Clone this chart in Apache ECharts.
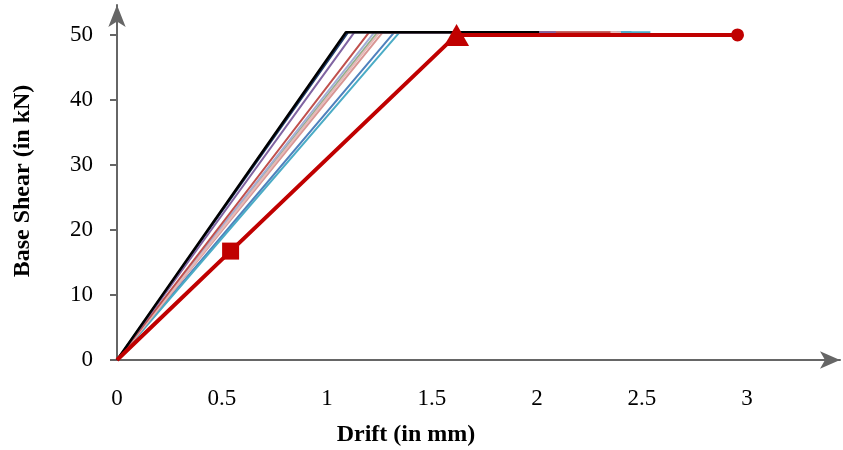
<!DOCTYPE html>
<html>
<head>
<meta charset="utf-8">
<script src="https://cdn.jsdelivr.net/npm/echarts@6/dist/echarts.min.js"></script>
<style>html,body{margin:0;padding:0;background:#fff}#c{width:843px;height:450px}</style>
</head>
<body>
<div id="c"></div>
<script>
// Tick labels
const xTicks = [0, 0.5, 1, 1.5, 2, 2.5, 3];
const yTicks = [0, 10, 20, 30, 40, 50];

// Thin curves: [yield drift, plateau end drift], plateau shear
const curveNames = ['blue', 'cyan', 'green', 'lavender', 'salmon', 'pink', 'red', 'navy', 'purple', 'black'];
const curveYieldDrift = [1.32, 1.345, 1.24, 1.225, 1.265, 1.25, 1.20, 1.10, 1.13, 1.09];
const curveEndDrift = [2.45, 2.54, 2.20, 2.30, 2.38, 2.40, 2.35, 1.95, 2.09, 2.01];
const curveShear = [50.4, 50.4, 50.4, 50.4, 50.4, 50.4, 50.4, 50.4, 50.4, 50.4];
const curveColors = ['#4F81BD', '#4BACC6', '#8FB08A', '#A3AED6', '#D99694', '#E6B9B8', '#C0504D', '#1F3A68', '#8064A2', '#000000'];
const curveWidths = [2, 2, 2, 2, 2, 2, 2, 2, 2, 2.5];

// Highlighted curve (thick red) with markers
const mainDrift = [0, 0.541, 1.617, 2.955];
const mainShear = [0, 16.75, 50.0, 50.0];
const mainSymbols = ['none', 'rect', 'triangle', 'circle'];
const mainSymbolSizes = [0, 17, [25, 22], 13];

const series = [];
curveNames.forEach((n, i) => {
  series.push({
    name: n, type: 'line', showSymbol: false, silent: true,
    data: [[0, 0], [curveYieldDrift[i], curveShear[i]], [curveEndDrift[i], curveShear[i]]],
    lineStyle: { color: curveColors[i], width: curveWidths[i] },
    itemStyle: { color: curveColors[i] }
  });
});
series.push({
  name: 'main', type: 'line', showSymbol: true, silent: true,
  data: mainDrift.map((x, i) => ({ value: [x, mainShear[i]], symbol: mainSymbols[i], symbolSize: mainSymbolSizes[i] })),
  lineStyle: { color: '#C00000', width: 4 },
  itemStyle: { color: '#C00000' },
  z: 5
});

const axisColor = '#666666';
const font = "'Liberation Serif', 'Times New Roman', serif";
const chart = echarts.init(document.getElementById('c'), null, { renderer: 'canvas' });
chart.setOption({
  animation: false,
  backgroundColor: '#ffffff',
  grid: { left: 117, right: 3, top: 5, bottom: 90, containLabel: false },
  xAxis: {
    type: 'value', min: 0, max: 3.443, interval: 0.5,
    splitLine: { show: false },
    axisLine: { lineStyle: { color: axisColor, width: 2 }, symbol: ['none', 'arrow'], symbolSize: [13, 20] },
    axisTick: { show: false },
    axisLabel: { customValues: xTicks, margin: 27, color: '#000', fontFamily: font, fontSize: 23, formatter: v => String(v) }
  },
  yAxis: {
    type: 'value', min: 0, max: 54.6, interval: 10,
    splitLine: { show: false },
    axisLine: { show: true, lineStyle: { color: axisColor, width: 2 }, symbol: ['none', 'arrow'], symbolSize: [13, 22] },
    axisTick: { show: true, customValues: yTicks, length: 7, lineStyle: { color: axisColor, width: 2 } },
    axisLabel: { customValues: yTicks, margin: 24, color: '#000', fontFamily: font, fontSize: 23 }
  },
  graphic: [
    { type: 'text', x: 406, y: 435, style: { text: 'Drift (in mm)', font: 'bold 24px ' + font, fill: '#000', align: 'center', verticalAlign: 'middle' } },
    { type: 'text', x: 23, y: 181, rotation: Math.PI / 2, style: { text: 'Base Shear (in kN)', font: 'bold 24px ' + font, fill: '#000', align: 'center', verticalAlign: 'middle' } }
  ],
  series: series
});
</script>
</body>
</html>
